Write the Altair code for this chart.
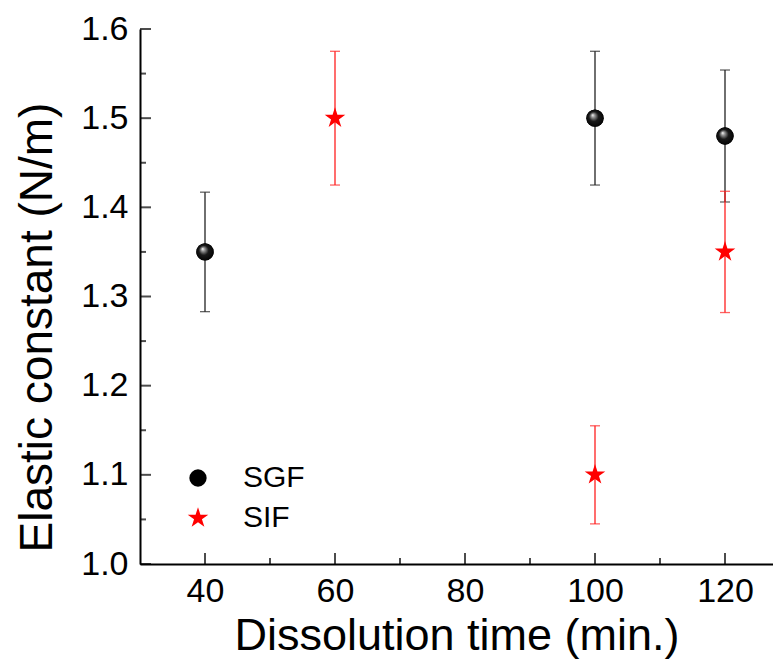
import altair as alt
import pandas as pd

# ---- data ----
series = ["SGF", "SIF"]
sgf_time = [40, 100, 120]
sgf_k = [1.35, 1.50, 1.48]
sgf_err = [0.067, 0.075, 0.074]
sif_time = [60, 100, 120]
sif_k = [1.50, 1.10, 1.35]
sif_err = [0.075, 0.055, 0.068]

x_major = [40, 60, 80, 100, 120]
x_minor = [50, 70, 90, 110]
y_major = [1.0, 1.1, 1.2, 1.3, 1.4, 1.5, 1.6]
y_minor = [1.05, 1.15, 1.25, 1.35, 1.45, 1.55]

x_title = "Dissolution time (min.)"
y_title = "Elastic constant (N/m)"

STAR = ("M0,-1.25L0.281,-0.386L1.189,-0.386L0.454,0.148L0.735,1.011L0,0.478"
        "L-0.735,1.011L-0.454,0.148L-1.189,-0.386L-0.281,-0.386Z")

rows = []
for t, k, e in zip(sgf_time, sgf_k, sgf_err):
    rows.append(dict(series="SGF", time=t, k=k, lo=k - e, hi=k + e))
for t, k, e in zip(sif_time, sif_k, sif_err):
    rows.append(dict(series="SIF", time=t, k=k, lo=k - e, hi=k + e))
df = pd.DataFrame(rows)

FONT = "Liberation Sans"
W, H = 633, 535

xs = alt.Scale(domain=[30, 30 + W / 6.5], nice=False, zero=False)
ys = alt.Scale(domain=[1.0, 1.6], nice=False, zero=False)
col = alt.Scale(domain=series, range=["#000000", "#ff0000"])
shp = alt.Scale(domain=series, range=["circle", STAR])
err_colors = {"SGF": "#222222", "SIF": "#ff2020"}

xax = alt.Axis(title=x_title, values=x_major, format="d", grid=False,
               ticks=False, tickSize=0, domainColor="black", domainWidth=2,
               labelFont=FONT, labelFontSize=34, labelColor="black",
               labelPadding=10, titleFont=FONT, titleFontSize=45,
               titleFontWeight="normal", titleColor="black",
               titleBaseline="alphabetic", titleY=85, labelFlush=False)
yax = alt.Axis(title=y_title, values=y_major, format=".1f", grid=False,
               ticks=False, tickSize=0, domainColor="black", domainWidth=2,
               labelFont=FONT, labelFontSize=34, labelColor="black",
               labelPadding=12, titleFont=FONT, titleFontSize=46,
               titleFontWeight="normal", titleColor="black",
               titleBaseline="alphabetic", titleAngle=270, titleX=-89,
               titleY=298, titleAlign="center", labelFlush=False)

X = alt.X("time:Q", scale=xs, axis=xax)
base = alt.Chart(df)

layers = []
for s in series:
    sub = base.transform_filter(alt.datum.series == s)
    c = err_colors[s]
    layers.append(sub.mark_rule(strokeWidth=1.3, color=c).encode(
        x=X, y=alt.Y("lo:Q", scale=ys, axis=yax), y2="hi:Q"))
    layers.append(sub.mark_tick(orient="horizontal", size=10, thickness=1.3,
                                color=c).encode(
        x=X, y=alt.Y("lo:Q", scale=ys, axis=yax)))
    layers.append(sub.mark_tick(orient="horizontal", size=10, thickness=1.3,
                                color=c).encode(
        x=X, y=alt.Y("hi:Q", scale=ys, axis=yax)))

# inward axis ticks
xt_major = alt.Chart(pd.DataFrame({"v": x_major})).mark_tick(
    orient="vertical", size=11, thickness=2, color="black").encode(
    x=alt.X("v:Q", scale=xs, axis=xax), y=alt.value(H - 5.5))
xt_minor = alt.Chart(pd.DataFrame({"v": x_minor})).mark_tick(
    orient="vertical", size=6, thickness=2, color="black").encode(
    x=alt.X("v:Q", scale=xs, axis=xax), y=alt.value(H - 3))
yt_major = alt.Chart(pd.DataFrame({"v": y_major})).mark_tick(
    orient="horizontal", size=11, thickness=2, color="black").encode(
    y=alt.Y("v:Q", scale=ys, axis=yax), x=alt.value(5.5))
yt_minor = alt.Chart(pd.DataFrame({"v": y_minor})).mark_tick(
    orient="horizontal", size=6, thickness=2, color="black").encode(
    y=alt.Y("v:Q", scale=ys, axis=yax), x=alt.value(3))

leg = alt.Legend(orient="none", legendX=43, legendY=434, title=None,
                 labelFont=FONT, labelFontSize=30, labelColor="black",
                 symbolSize=300, rowPadding=10, labelOffset=30, padding=0,
                 symbolStrokeWidth=0)

pts = base.mark_point(filled=True, size=300, opacity=1, strokeWidth=0).encode(
    x=X,
    y=alt.Y("k:Q", scale=ys, axis=yax),
    color=alt.Color("series:N", scale=col, legend=leg),
    shape=alt.Shape("series:N", scale=shp, legend=leg),
)

sphere_fill = alt.RadialGradient(
    gradient="radial",
    stops=[alt.GradientStop(color="#ffffff", offset=0),
           alt.GradientStop(color="#9a9a9a", offset=0.18),
           alt.GradientStop(color="#1a1a1a", offset=0.5),
           alt.GradientStop(color="#000000", offset=1)],
    x1=0.36, y1=0.32, r1=0, x2=0.5, y2=0.5, r2=0.55,
)
sphere = base.transform_filter(alt.datum.series == "SGF").mark_point(
    filled=True, size=300, shape="circle", fill=sphere_fill, opacity=1,
    strokeWidth=0,
).encode(x=X, y=alt.Y("k:Q", scale=ys, axis=yax))

chart = alt.layer(
    *layers, xt_major, xt_minor, yt_major, yt_minor, pts, sphere
).properties(
    width=W, height=H,
    autosize=alt.AutoSizeParams(type="none"),
    padding={"left": 132, "top": 21, "right": 0, "bottom": 95},
    background="white",
).configure_view(stroke=None)

chart.save("out.html", embed_options={"renderer": "svg", "actions": False})
